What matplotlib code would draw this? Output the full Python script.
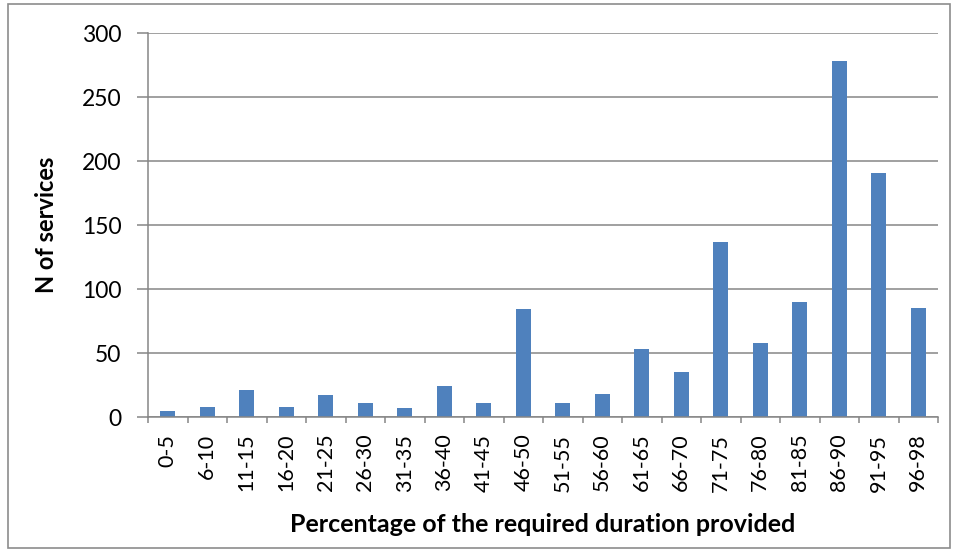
import matplotlib
matplotlib.use("Agg")
import matplotlib.pyplot as plt
import numpy as np
from matplotlib.patches import Rectangle

categories = ["0-5", "6-10", "11-15", "16-20", "21-25", "26-30", "31-35", "36-40", "41-45", "46-50",
              "51-55", "56-60", "61-65", "66-70", "71-75", "76-80", "81-85", "86-90", "91-95", "96-98"]
values = [5, 8, 21, 8, 17, 11, 7, 24, 11, 84, 11, 18, 53, 35, 137, 58, 90, 278, 191, 85]
yticks = [0, 50, 100, 150, 200, 250, 300]

plt.rcParams['font.family'] = ['Lato', 'DejaVu Sans']

W, H = 956, 552
fig = plt.figure(figsize=(W / 100, H / 100), dpi=100)
ax = fig.add_axes([148 / W, 1 - 417 / H, (938 - 148) / W, (417 - 33) / H])

grid_c = "#868686"
lw = 1.1
x = np.arange(len(categories))
ax.bar(x, values, width=0.39, color="#4F81BD", zorder=3)
ax.set_xlim(-0.5, len(categories) - 0.5)
ax.set_ylim(0, 300)
ax.set_yticks(yticks)
ax.yaxis.grid(True, color=grid_c, linewidth=lw, zorder=0)
ax.set_xticks(x)
ax.set_xticklabels(categories, rotation=90, fontsize=15.5)
ax.tick_params(axis='x', length=0, pad=12)
ax.set_xticks(np.arange(len(categories) + 1) - 0.5, minor=True)
ax.tick_params(axis='x', which='minor', length=4.5, width=lw, color=grid_c)
ax.tick_params(axis='y', length=8, width=lw, color=grid_c, labelsize=16.5, pad=11)
for s in ['top', 'right']:
    ax.spines[s].set_visible(False)
for s in ['left', 'bottom']:
    ax.spines[s].set_color(grid_c)
    ax.spines[s].set_linewidth(lw)
ax.spines['bottom'].set_zorder(4)

ax.set_ylabel("N of services", fontsize=17, fontweight='bold')
ax.set_xlabel("Percentage of the required duration provided", fontsize=18, fontweight='bold')
ax.yaxis.set_label_coords((46 - 148) / 790, 0.5)
ax.xaxis.set_label_coords(0.5, (417 - 524) / 384)
ax.xaxis.label.set_va('center')
ax.yaxis.label.set_va('center')

fig.patches.append(Rectangle((8 / W, 4 / H), (950 - 8) / W, (548 - 4) / H, transform=fig.transFigure,
                             fill=False, edgecolor="#8c8c8c", linewidth=1.2))

fig.savefig("out.png", dpi=100)
